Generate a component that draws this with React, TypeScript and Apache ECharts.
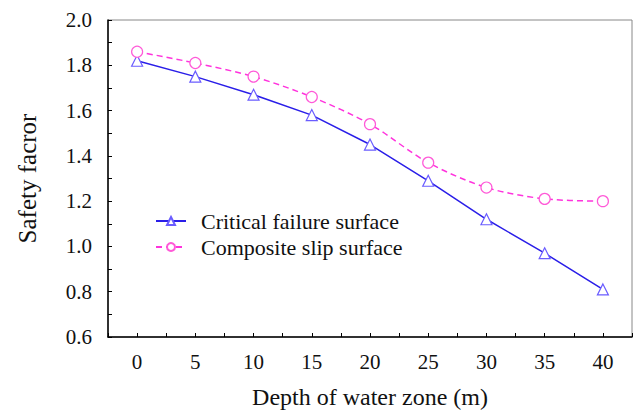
import React, { useEffect, useRef } from "react";
import * as echarts from "echarts";

const depths = [0, 5, 10, 15, 20, 25, 30, 35, 40];
const criticalFailure = [1.82, 1.75, 1.67, 1.58, 1.45, 1.29, 1.12, 0.97, 0.81];
const compositeSlip = [1.86, 1.81, 1.75, 1.66, 1.54, 1.37, 1.26, 1.21, 1.2];
const seriesNames = ["Critical failure surface", "Composite slip surface"];

const FONT = "'Liberation Serif', 'Times New Roman', serif";

export default function App() {
  const ref = useRef<HTMLDivElement>(null);
  useEffect(() => {
    const chart = echarts.init(ref.current!, null, { renderer: "svg" });
    chart.setOption({
      animation: false,
      backgroundColor: "#fff",
      textStyle: { fontFamily: FONT },
      grid: {
        left: 108,
        top: 20,
        right: 2,
        bottom: 75,
        show: true,
        borderColor: "#888",
        borderWidth: 1,
        outerBoundsMode: "none",
        containLabel: false,
      },
      legend: {
        orient: "vertical",
        left: 150,
        top: 205,
        itemWidth: 30,
        itemHeight: 10,
        itemGap: 4,
        data: seriesNames,
        textStyle: { fontFamily: FONT, fontSize: 22, color: "#111", padding: [0, 0, 0, 10] },
      },
      xAxis: {
        type: "value",
        min: -2.5,
        max: 42.5,
        interval: 2.5,
        name: "Depth of water zone (m)",
        nameLocation: "middle",
        nameGap: 48,
        nameTextStyle: { fontFamily: FONT, fontSize: 24, color: "#111" },
        axisLine: { show: true, onZero: false, lineStyle: { color: "#000", width: 1.5 } },
        axisTick: { show: true, inside: true, length: 4, lineStyle: { color: "#000" } },
        splitLine: { show: false },
        axisLabel: {
          fontFamily: FONT,
          fontSize: 21,
          color: "#111",
          margin: 14,
          showMinLabel: true,
          showMaxLabel: true,
          formatter: (v: number) => (Math.abs(v % 5) < 1e-6 && v >= 0 && v <= 40 ? String(v) : ""),
        },
      },
      yAxis: {
        type: "value",
        min: 0.6,
        max: 2.0,
        interval: 0.1,
        name: "Safety facror",
        nameLocation: "middle",
        nameGap: 68,
        nameTextStyle: { fontFamily: FONT, fontSize: 25, color: "#111" },
        axisLine: { show: true, onZero: false, lineStyle: { color: "#000", width: 1.5 } },
        axisTick: { show: true, inside: true, length: 4, lineStyle: { color: "#000" } },
        splitLine: { show: false },
        axisLabel: {
          fontFamily: FONT,
          fontSize: 21,
          color: "#111",
          margin: 16,
          formatter: (v: number) => (Math.round(v * 10) % 2 === 0 ? v.toFixed(1) : ""),
        },
      },
      series: [
        {
          name: seriesNames[0],
          type: "line",
          data: depths.map((d, i) => [d, criticalFailure[i]]),
          symbol: "triangle",
          symbolSize: 11,
          itemStyle: { color: "#fff", borderColor: "#6a5cff", borderWidth: 1.2 },
          lineStyle: { color: "#2a1ee8", width: 1.5, type: "solid" },
        },
        {
          name: seriesNames[1],
          type: "line",
          data: depths.map((d, i) => [d, compositeSlip[i]]),
          symbol: "circle",
          symbolSize: 11,
          smooth: 0.3,
          itemStyle: { color: "#fff", borderColor: "#ff5ad8", borderWidth: 1.2 },
          lineStyle: { color: "#ff33dd", width: 1.5, type: [6, 4] },
        },
      ],
    });
    return () => chart.dispose();
  }, []);
  return <div ref={ref} style={{ width: 634, height: 412, position: "absolute", left: 0, top: 0 }} />;
}
